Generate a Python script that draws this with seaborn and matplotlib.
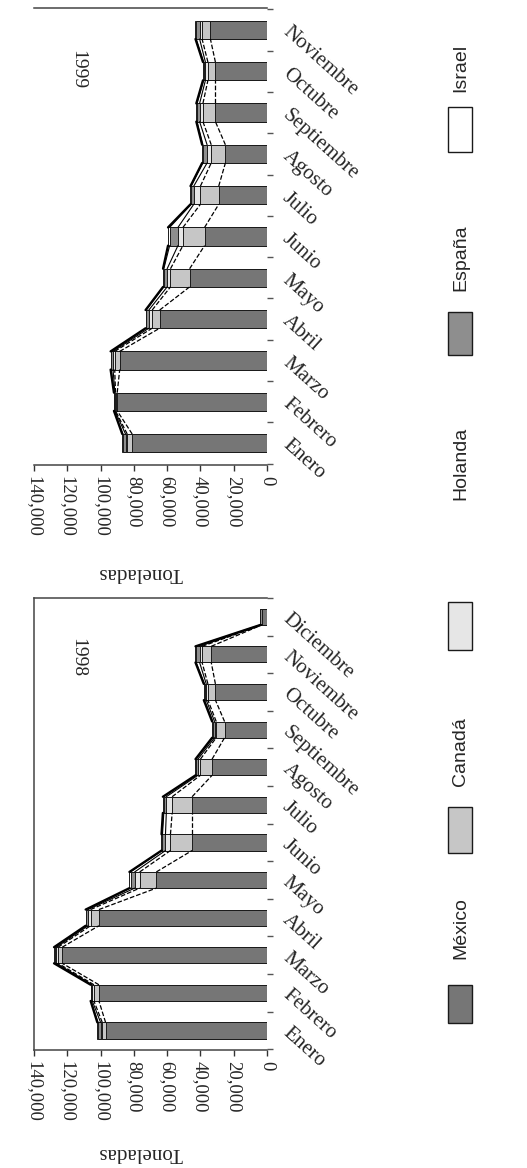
import numpy as np
import pandas as pd
import matplotlib
matplotlib.use("Agg")
import matplotlib.pyplot as plt
import seaborn as sns
from matplotlib.patches import Rectangle
from matplotlib.ticker import FuncFormatter

# ---------------- data ----------------
meses_1998 = ["Enero", "Febrero", "Marzo", "Abril", "Mayo", "Junio", "Julio",
              "Agosto", "Septiembre", "Octubre", "Noviembre", "Diciembre"]
meses_1999 = meses_1998[:11]

paises = ["México", "Canadá", "Holanda", "España", "Israel"]

mexico_1998 = [97000, 101000, 123000, 101000, 66500, 45000, 45000, 33000, 25500, 31000, 33500, 3000]
canada_1998 = [2000, 3000, 2500, 5000, 10000, 13000, 12000, 7000, 5000, 4500, 5500, 0]
holanda_1998 = [1000, 1000, 1000, 1500, 3000, 3000, 3500, 1500, 1000, 1000, 1500, 0]
espana_1998 = [1500, 700, 1000, 1000, 2500, 1800, 1500, 1000, 1000, 1000, 2000, 1000]
israel_1998 = [500, 300, 500, 500, 700, 600, 600, 500, 500, 500, 500, 0]

mexico_1999 = [81000, 90000, 88500, 64500, 46500, 37500, 29000, 25000, 31000, 31000, 34000]
canada_1999 = [3000, 1000, 3000, 4500, 11500, 13000, 11000, 8500, 7500, 4500, 5000]
holanda_1999 = [1000, 400, 1000, 2000, 2000, 3000, 4000, 2500, 2000, 1500, 1500]
espana_1999 = [1500, 400, 1000, 1500, 2000, 5000, 1500, 2500, 1500, 1000, 2000]
israel_1999 = [500, 200, 500, 500, 500, 1000, 500, 500, 500, 500, 500]

valor_ticks = [0, 20000, 40000, 60000, 80000, 100000, 120000, 140000]

series_1998 = dict(zip(paises, [mexico_1998, canada_1998, holanda_1998, espana_1998, israel_1998]))
series_1999 = dict(zip(paises, [mexico_1999, canada_1999, holanda_1999, espana_1999, israel_1999]))

# ---------------- style ----------------
colores = ["#767676", "#c6c6c6", "#e6e6e6", "#8e8e8e", "#ffffff"]
line_styles = [("--", 0.9), ("--", 0.9), ("-", 0.8), ("-", 0.8), ("-", 1.6)]

sns.set_theme(style="white")
plt.rcParams["font.family"] = ["Liberation Serif", "DejaVu Serif"]

W, H = 527, 1168
fig = plt.figure(figsize=(W / 100, H / 100), dpi=100)
fig.patch.set_facecolor("white")


def fx(x):
    return x / W


def fy(y):
    return 1 - y / H


def draw_panel(ax, meses, series, bar_h, ylim, spines_visible):
    n = len(meses)
    df = pd.DataFrame({"mes": meses})
    cums = []
    acc = np.zeros(n)
    for p in paises:
        acc = acc + np.array(series[p], dtype=float)
        cums.append(acc.copy())
    for k in reversed(range(len(paises))):
        df[f"c{k}"] = cums[k]
        sns.barplot(data=df, x=f"c{k}", y="mes", orient="h", color=colores[k],
                    saturation=1, width=bar_h, edgecolor="#1a1a1a", linewidth=0.7,
                    errorbar=None, ax=ax)
    # series lines joining segment ends of consecutive bars
    for k, (ls, lw) in enumerate(line_styles):
        for i in range(n - 1):
            ax.plot([cums[k][i], cums[k][i + 1]],
                    [i + bar_h / 2, i + 1 - bar_h / 2],
                    color="black", lw=lw, ls=ls, zorder=5)
    ax.set_xlim(140000, 0)
    ax.set_ylim(*ylim)
    ax.set_xlabel("")
    ax.set_ylabel("")
    ax.set_xticks(valor_ticks)
    ax.xaxis.set_major_formatter(FuncFormatter(lambda v, p: f"{v:,.0f}"))
    ax.tick_params(axis="x", direction="out", length=4, width=1, color="#333333",
                   labelsize=13.5, pad=4, bottom=True)
    for lbl in ax.get_xticklabels():
        lbl.set_rotation(270)
        lbl.set_ha("center")
        lbl.set_va("top")
    ax.yaxis.tick_right()
    ax.set_yticks(range(n))
    ax.set_yticklabels(meses)
    ax.set_yticks(np.arange(-0.5, n, 1.0), minor=True)
    ax.tick_params(axis="y", which="major", length=0, pad=13, labelsize=15,
                   right=False, left=False)
    ax.tick_params(axis="y", which="minor", length=4, width=1, color="#555555",
                   direction="out", right=True, left=False)
    for lbl in ax.get_yticklabels():
        lbl.set_rotation(-42)
        lbl.set_ha("left")
        lbl.set_va("center")
        lbl.set_rotation_mode("anchor")
    for side, vis in spines_visible.items():
        ax.spines[side].set_visible(vis)
        ax.spines[side].set_color("#444444")
        ax.spines[side].set_linewidth(1.1)
    ax.set_facecolor("white")
    ax.grid(False)


ax_top = fig.add_axes([fx(34), fy(465), fx(267) - fx(34), (465 - 8) / H])
ax_bot = fig.add_axes([fx(34), fy(1050), fx(267) - fx(34), (1050 - 598) / H])

draw_panel(ax_top, meses_1999, series_1999, 0.44, (-0.53, 10.53),
           {"top": True, "bottom": True, "left": False, "right": False})
draw_panel(ax_bot, meses_1998, series_1998, 0.43, (-0.52, 11.31),
           {"top": True, "bottom": True, "left": True, "right": False})

# year labels
fig.text(fx(78), fy(70), "1999", rotation=270, ha="center", va="center", fontsize=14)
fig.text(fx(78), fy(658), "1998", rotation=270, ha="center", va="center", fontsize=14)

# axis titles
fig.text(fx(140), fy(572), "Toneladas", rotation=180, ha="center", va="center", fontsize=15)
fig.text(fx(140), fy(1152), "Toneladas", rotation=180, ha="center", va="center", fontsize=15)

# legend (rotated layout)
legend_layout = [  # (patch top, patch bottom, label center y)
    (985, 1023, 928),
    (807, 853, 752),
    (602, 650, 463),
    (312, 355, 258),
    (107, 152, 68),
]
for k, (p, (t, b, ly)) in enumerate(zip(paises, legend_layout)):
    fig.add_artist(Rectangle((fx(448), fy(b)), fx(472) - fx(448), (b - t) / H,
                             transform=fig.transFigure, facecolor=colores[k],
                             edgecolor="#1a1a1a", linewidth=1.0))
    fig.text(fx(461), fy(ly), p, rotation=90, ha="center", va="center",
             fontsize=14, family=["Liberation Sans", "DejaVu Sans"])

fig.savefig("out.png", dpi=100, facecolor="white")
